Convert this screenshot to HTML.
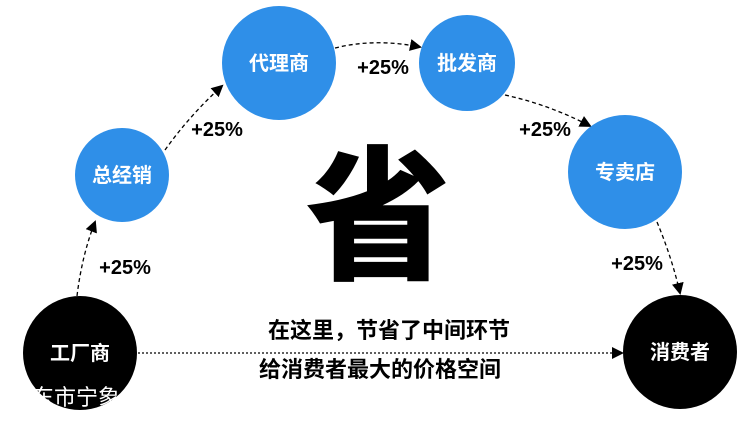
<!DOCTYPE html>
<html><head><meta charset="utf-8"><style>
body{margin:0;width:750px;height:416px;overflow:hidden;background:#fff;font-family:"Liberation Sans","Noto Sans CJK SC",sans-serif}
</style></head><body>
<svg width="750" height="416" viewBox="0 0 750 416" xmlns="http://www.w3.org/2000/svg" style="font-family:'Liberation Sans','Noto Sans CJK SC',sans-serif">
<defs><marker id="a" markerWidth="12" markerHeight="12" refX="10" refY="6" orient="auto" markerUnits="userSpaceOnUse"><path d="M0,0 L12,6 L0,12z" fill="#000"/></marker></defs>
<g stroke="#000" stroke-width="1.3" stroke-dasharray="4,3" fill="none" marker-end="url(#a)">
<path d="M77,296 Q82,255 95,222"/>
<path d="M165,150 Q190,115 222,86"/>
<path d="M335,48 Q375,38 420,47"/>
<path d="M505,95 Q550,105 590,126"/>
<path d="M657,222 Q672,258 680,293"/>
<path d="M138,353 L622,353" stroke-dasharray="2,2"/>
</g>
<circle cx="80" cy="353" r="57" fill="#000"/>
<circle cx="122" cy="175" r="47" fill="#2f8fe8"/>
<circle cx="279" cy="63" r="57" fill="#2f8fe8"/>
<circle cx="467" cy="63" r="48" fill="#2f8fe8"/>
<circle cx="625" cy="172" r="57" fill="#2f8fe8"/>
<circle cx="680" cy="352" r="57" fill="#000"/>
<g fill="#fff" font-weight="bold" font-size="20" text-anchor="middle">
<text x="80" y="360">工厂商</text>
<text x="122" y="182">总经销</text>
<text x="279" y="70">代理商</text>
<text x="467" y="70">批发商</text>
<text x="625" y="179">专卖店</text>
<text x="680" y="359">消费者</text>
</g>
<g font-weight="bold" font-size="20" text-anchor="middle" fill="#000">
<text x="125" y="274">+25%</text>
<text x="217" y="136">+25%</text>
<text x="383" y="74">+25%</text>
<text x="545" y="136">+25%</text>
<text x="637" y="270">+25%</text>
</g>
<g font-weight="bold" font-size="22" text-anchor="middle" fill="#000">
<text x="389" y="338">在这里，节省了中间环节</text>
<text x="380" y="377">给消费者最大的价格空间</text>
</g>
<text x="378" y="268" font-size="145" font-weight="900" text-anchor="middle" fill="#000" font-family="'Noto Sans CJK SC',sans-serif">省</text>
<text x="32" y="405" font-size="22" fill="#fff">东市宁象</text>
</svg>
</body></html>
